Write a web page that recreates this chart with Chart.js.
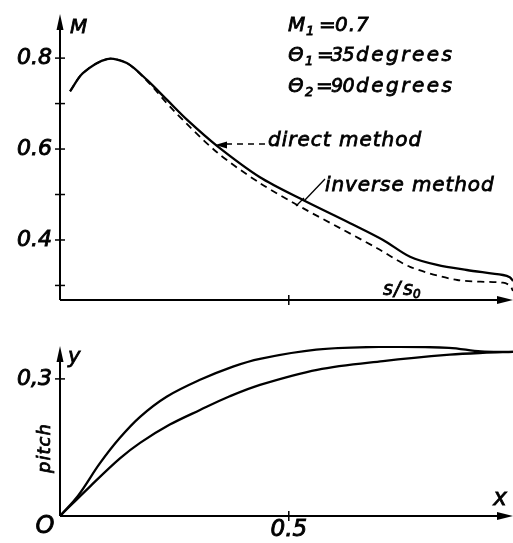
<!DOCTYPE html>
<html><head><meta charset="utf-8">
<script src="https://cdn.jsdelivr.net/npm/chart.js@4"></script>
<style>
html,body{margin:0;padding:0;background:#fff;}
#wrap{position:relative;width:513px;height:543px;overflow:hidden;}
canvas{position:absolute;left:0;top:0;}
</style></head><body>
<div id="wrap"><canvas id="topChart" width="513" height="543"></canvas><canvas id="botChart" width="513" height="543"></canvas></div>
<script>
// ---- upper panel: M versus s/s0 ----
const sSolid  = [0.022, 0.050, 0.103, 0.146, 0.190, 0.234, 0.278, 0.343, 0.437, 0.531, 0.634, 0.706, 0.765, 0.824, 0.889, 0.968, 0.983, 0.990];
const mSolid  = [0.727, 0.767, 0.798, 0.789, 0.752, 0.708, 0.664, 0.607, 0.538, 0.488, 0.437, 0.400, 0.363, 0.345, 0.334, 0.323, 0.318, 0.310];
const sDashed = [0.022, 0.050, 0.103, 0.146, 0.190, 0.247, 0.343, 0.437, 0.531, 0.612, 0.693, 0.765, 0.868, 0.968, 0.983, 0.990];
const mDashed = [0.727, 0.767, 0.798, 0.789, 0.750, 0.686, 0.593, 0.525, 0.470, 0.426, 0.382, 0.341, 0.312, 0.306, 0.300, 0.288];
const topYTicks  = [0.3, 0.4, 0.5, 0.6, 0.7, 0.8];
const topYLabels = ['', '0.4', '', '0.6', '', '0.8'];
const topXTicks  = [0.5];
const topXLabels = [''];
// ---- lower panel: pitch y versus x ----
const xUpper = [0, 0.040, 0.087, 0.130, 0.175, 0.233, 0.306, 0.378, 0.437, 0.560, 0.700, 0.850, 0.920, 0.990];
const yUpper = [0, 0.045, 0.115, 0.170, 0.217, 0.261, 0.298, 0.327, 0.344, 0.364, 0.370, 0.368, 0.360, 0.359];
const xLower = [0, 0.066, 0.131, 0.175, 0.240, 0.306, 0.371, 0.437, 0.562, 0.706, 0.852, 0.924, 0.990];
const yLower = [0, 0.065, 0.126, 0.160, 0.200, 0.232, 0.262, 0.287, 0.320, 0.339, 0.353, 0.357, 0.359];
const botYTicks  = [0.3];
const botYLabels = ['0,3'];
const botXTicks  = [0.5];
const botXLabels = ['0.5'];

const FAM = '"DejaVu Sans", "Liberation Sans", sans-serif';
const pts = (xs, ys) => xs.map((x, i) => ({x, y: ys[i]}));

function txt(ctx, s, x, y, size, align, ls) {
  ctx.font = 'italic ' + size + 'px ' + FAM;
  ctx.textAlign = align || 'left';
  ctx.textBaseline = 'alphabetic';
  ctx.letterSpacing = (ls || 0) + 'px';
  ctx.lineWidth = 0.8; ctx.strokeStyle = '#000';
  ctx.fillText(s, x, y);
  ctx.strokeText(s, x, y);
  ctx.letterSpacing = '0px';
}
function arrowHead(ctx, x, y, dir, len, hw) {
  ctx.beginPath();
  if (dir === 'up') { ctx.moveTo(x, y); ctx.lineTo(x - hw, y + len); ctx.lineTo(x + hw, y + len); }
  else if (dir === 'right') { ctx.moveTo(x, y); ctx.lineTo(x - len, y - hw); ctx.lineTo(x - len, y + hw); }
  else if (dir === 'left') { ctx.moveTo(x, y); ctx.lineTo(x + len, y - hw); ctx.lineTo(x + len, y + hw); }
  ctx.closePath(); ctx.fill();
}
function drawAxes(chart) {
  const {ctx, chartArea: a, scales: {x, y}} = chart;
  ctx.save();
  ctx.strokeStyle = '#000'; ctx.fillStyle = '#000'; ctx.lineWidth = 2;
  ctx.beginPath();
  ctx.moveTo(a.left, a.bottom); ctx.lineTo(a.left, a.top + 8);
  ctx.moveTo(a.left, a.bottom); ctx.lineTo(a.right - 8, a.bottom);
  ctx.stroke();
  arrowHead(ctx, a.left, a.top, 'up', 16, 3.5);
  arrowHead(ctx, a.right, a.bottom, 'right', 16, 4);
  ctx.lineWidth = 1.5;
  y.ticks.forEach(t => { const p = y.getPixelForValue(t.value); ctx.beginPath(); ctx.moveTo(a.left - 5, p); ctx.lineTo(a.left + 5, p); ctx.stroke(); });
  x.ticks.forEach(t => { const p = x.getPixelForValue(t.value); ctx.beginPath(); ctx.moveTo(p, a.bottom - 5); ctx.lineTo(p, a.bottom + 5); ctx.stroke(); });
  ctx.restore();
}
function scaleOpts(pos, min, max, vals, labels, size, padding, thickness) {
  return {
    type: 'linear', position: pos, min, max,
    grid: {display: false, drawTicks: false}, border: {display: false},
    afterBuildTicks: s => { s.ticks = vals.map(v => ({value: v})); },
    afterFit: s => {
      if (pos === 'left') s.width = thickness; else s.height = thickness;
      s.paddingTop = 0; s.paddingBottom = 0; s.paddingLeft = 0; s.paddingRight = 0;
    },
    ticks: {callback: (v, i) => labels[i], color: '#000', padding, autoSkip: false, maxRotation: 0, minRotation: 0,
            textStrokeColor: '#000', textStrokeWidth: 0.9,
            font: {family: FAM, size, style: 'italic'}}
  };
}
const baseOpts = {responsive: false, animation: false, devicePixelRatio: 1, events: [],
  plugins: {legend: {display: false}, tooltip: {enabled: false}}};

// ---------- upper chart ----------
new Chart(document.getElementById('topChart'), {
  type: 'line',
  data: {datasets: [
    {label: 'inverse method', data: pts(sSolid, mSolid), borderColor: '#000', borderWidth: 2.3, pointRadius: 0, fill: false, tension: 0.3},
    {label: 'direct method', data: pts(sDashed, mDashed), borderColor: '#000', borderWidth: 1.8, borderDash: [7, 5], pointRadius: 0, fill: false, tension: 0.3}
  ]},
  options: Object.assign({}, baseOpts, {
    layout: {padding: {top: 14, left: 0, right: 0, bottom: 0}},
    scales: {
      x: scaleOpts('bottom', 0, 0.99, topXTicks, topXLabels, 22, 0, 243),
      y: scaleOpts('left', 0.268, 0.897, topYTicks, topYLabels, 22, 8, 60)
    }
  }),
  plugins: [{id: 'topDeco', afterDraw(chart) {
    const ctx = chart.ctx;
    drawAxes(chart);
    ctx.save(); ctx.fillStyle = '#000'; ctx.strokeStyle = '#000';
    txt(ctx, 'M', 70, 33, 20);
    // parameter block
    txt(ctx, 'M', 288, 31, 20); txt(ctx, '1', 306, 35, 13); txt(ctx, '=', 319, 31, 20); txt(ctx, '0.7', 335, 31, 20, 'left', 1);
    txt(ctx, '\u0398', 288, 61, 20); txt(ctx, '1', 305, 65, 13); txt(ctx, '=', 317, 61, 20); txt(ctx, '35', 331, 61, 19, 'left', -0.5); txt(ctx, 'degrees', 356, 61, 20, 'left', 2.5);
    txt(ctx, '\u0398', 288, 92, 20); txt(ctx, '2', 305, 96, 13); txt(ctx, '=', 316, 92, 20); txt(ctx, '90', 331, 92, 19, 'left', -0.5); txt(ctx, 'degrees', 356, 92, 20, 'left', 2.5);
    // direct method label with dashed leader
    txt(ctx, 'direct method', 268, 146, 20, 'left', 1.0);
    ctx.lineWidth = 1.3; ctx.setLineDash([6, 5]);
    ctx.beginPath(); ctx.moveTo(265, 144); ctx.lineTo(226, 144); ctx.stroke();
    ctx.setLineDash([]);
    arrowHead(ctx, 215, 145, 'left', 12, 3.5);
    // inverse method label with leader
    txt(ctx, 'inverse method', 325, 191, 20, 'left', 0.9);
    ctx.lineWidth = 1.3;
    ctx.beginPath(); ctx.moveTo(325, 179); ctx.lineTo(304, 201); ctx.stroke();
    ctx.beginPath(); ctx.moveTo(296, 206); ctx.lineTo(304, 198); ctx.stroke();
    // abscissa label
    txt(ctx, 's', 383, 295, 19); txt(ctx, '/', 394, 295, 19); txt(ctx, 's', 403, 295, 19); txt(ctx, '0', 413, 298, 12);
    ctx.restore();
  }}]
});

// ---------- lower chart ----------
new Chart(document.getElementById('botChart'), {
  type: 'line',
  data: {datasets: [
    {label: 'upper', data: pts(xUpper, yUpper), borderColor: '#000', borderWidth: 2.3, pointRadius: 0, fill: false, tension: 0.35},
    {label: 'lower', data: pts(xLower, yLower), borderColor: '#000', borderWidth: 2.3, pointRadius: 0, fill: false, tension: 0.35}
  ]},
  options: Object.assign({}, baseOpts, {
    layout: {padding: {top: 346, left: 0, right: 0, bottom: 0}},
    scales: {
      x: scaleOpts('bottom', 0, 0.99, botXTicks, botXLabels, 23, 0, 27),
      y: scaleOpts('left', 0, 0.372, botYTicks, botYLabels, 22, 8, 60)
    }
  }),
  plugins: [{id: 'botDeco', afterDraw(chart) {
    const ctx = chart.ctx;
    drawAxes(chart);
    ctx.save(); ctx.fillStyle = '#000';
    txt(ctx, 'y', 68, 363, 21);
    txt(ctx, 'O', 45, 533, 24, 'center');
    txt(ctx, 'x', 500, 505, 23, 'center');
    ctx.translate(50, 448); ctx.rotate(-Math.PI / 2);
    txt(ctx, 'pitch', 0, 0, 18, 'center', 1);
    ctx.restore();
  }}]
});
</script>
</body></html>
